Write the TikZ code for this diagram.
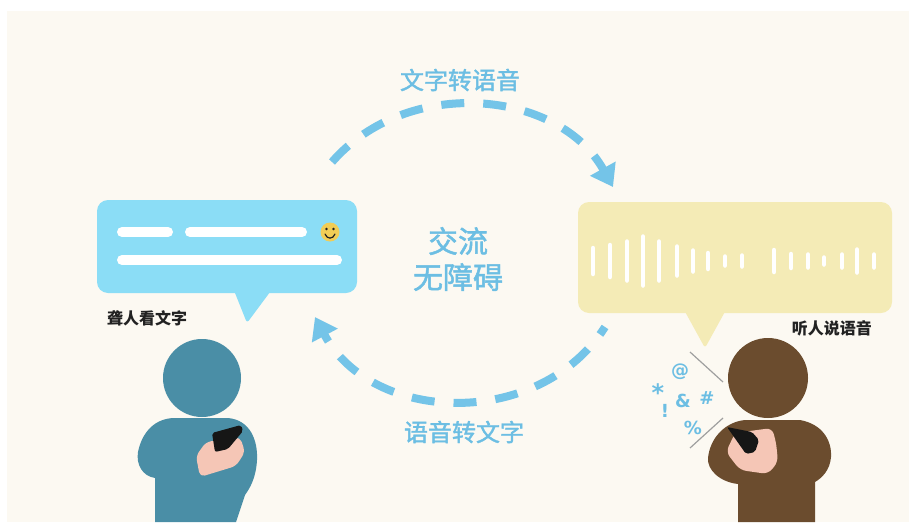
\documentclass[tikz,border=0pt]{standalone}
\usepackage{fontspec}
\newfontfamily\cjk{Noto Sans CJK SC}
\newfontfamily\cjkmed[FakeBold=1.6]{Noto Sans CJK SC}
\newfontfamily\symfont{DejaVu Sans}
\usetikzlibrary{arrows.meta,positioning}
\definecolor{bgcream}{RGB}{252,249,242}
\definecolor{textbub}{RGB}{139,221,246}
\definecolor{voicebub}{RGB}{244,235,182}
\definecolor{flowblue}{RGB}{116,196,232}
\definecolor{capblue}{RGB}{108,190,227}
\definecolor{deafcol}{RGB}{74,142,166}
\definecolor{hearcol}{RGB}{107,76,46}
\definecolor{skin}{RGB}{245,198,182}
\definecolor{phone}{RGB}{22,22,22}
\definecolor{smiley}{RGB}{241,205,85}
\definecolor{labelcol}{RGB}{34,34,34}
\tikzset{
  bubble/.style={rounded corners=11pt, inner sep=0pt},
  txtline/.style={white, line width=10pt, line cap=round},
  wavebar/.style={white, line width=4.5pt, line cap=round},
  % the two dashed conversion loops
  flow/.style={flowblue, line width=8pt, dash pattern=on 23pt off 19pt,
    -{Triangle[length=21pt,width=28pt]}},
  caption/.style={capblue, font=\cjkmed\fontsize{24}{26}\selectfont, inner sep=0pt},
  who/.style={labelcol, font=\cjk\bfseries\fontsize{16}{18}\selectfont, inner sep=0pt},
  noise/.style={capblue, font=\symfont\bfseries\fontsize{18}{22}\selectfont, inner sep=0pt},
}

\begin{document}
\begin{tikzpicture}[x=1pt, y=-1pt]
\useasboundingbox (0,0) rectangle (909,522);
\fill[white] (0,0) rectangle (909,522);
\fill[bgcream] (7,11) rectangle (909,522);

% ---------- text bubble (left) ----------
\node[bubble, fill=textbub, minimum width=260pt, minimum height=93pt] (textbubble) at (227,246.5) {};
\fill[textbub, rounded corners=3pt] (233,288) -- (273,288) -- (247,323) -- cycle;
\draw[txtline] (122,232) -- (168,232);
\draw[txtline] (190,232) -- (302,232);
\draw[txtline] (122,260) -- (337,260);
\fill[smiley] (330,232) circle (9.5pt);
\fill[labelcol] (326.5,229) circle (1.3pt) (333.5,229) circle (1.3pt);
\draw[labelcol, line width=1.2pt, line cap=round] (325,234) .. controls (327,239.5) and (333,239.5) .. (335,234);
\node[who, anchor=west] (deaflabel) at (107,318) {聋人看文字};

% ---------- voice bubble (right) ----------
\node[bubble, fill=voicebub, minimum width=314pt, minimum height=111pt] (voicebubble) at (735,257.5) {};
\fill[voicebub, rounded corners=3pt] (683,308) -- (727,308) -- (705,348) -- cycle;
\foreach \bx/\bh in {593/30, 610/36, 627/43, 643/53, 659/43, 677/33, 693/25, 708/20,
    725/13, 742/15, 774/26, 791/18, 808/17, 824/11, 842/17, 857/27, 874/17}
  \draw[wavebar] (\bx,{261-\bh/2+2}) -- (\bx,{261+\bh/2-2});
\node[who, anchor=east] (hearlabel) at (872,328) {听人说语音};

% ---------- conversion loops ----------
\coordinate (ttsfrom) at (332,162);
\coordinate (ttsto)   at (613,187);
\coordinate (sttfrom) at (605,327);
\coordinate (sttto)   at (315,317);
\draw[flow] (ttsfrom) .. controls (408,75) and (559,90) .. (ttsto);
\draw[flow, dash phase=14pt] (sttfrom) .. controls (539,430) and (372,424) .. (sttto);
\node[caption] (tts) at (460,80) {文字转语音};
\node[caption] (stt) at (464,432) {语音转文字};
\node[caption, font=\cjkmed\fontsize{30}{36}\selectfont, align=center] (barrierfree) at (458,259) {交流\\无障碍};

% ---------- deaf person ----------
\fill[deafcol] (175,418) -- (228,418)
  .. controls (250,420) and (258,440) .. (257,460)
  .. controls (256,478) and (250,488) .. (245,495) -- (236,522) -- (155,522) -- (155,478)
  .. controls (142,476) and (136,464) .. (138,452)
  .. controls (142,432) and (155,418) .. (175,418) -- cycle;
\fill[deafcol] (202,378) circle (39pt);
\fill[skin, rounded corners=5pt] (206,442) -- (240,437) -- (245,452) -- (236,466) -- (200,477) -- (196,456) -- cycle;
\fill[phone, rounded corners=2pt] (212,433) -- (241,425) -- (243,431) -- (228,449) -- (215,452) -- cycle;

% ---------- hearing person ----------
\fill[hearcol] (745,420) -- (800,420)
  .. controls (822,424) and (832,440) .. (831,457)
  .. controls (830,470) and (822,478) .. (815,482) -- (815,522) -- (738,522) -- (738,484)
  .. controls (720,482) and (707,470) .. (708,458)
  .. controls (710,438) and (725,422) .. (745,420) -- cycle;
\fill[hearcol] (768,378) circle (40pt);
\fill[skin, rounded corners=6pt] (735,433) -- (772,428) -- (776,442) -- (778,462) -- (768,474) -- (740,470) -- (726,452) -- cycle;
\fill[phone, rounded corners=2pt] (727,427) -- (752,432) -- (759,440) -- (755,452) -- (746,454) -- cycle;

% speech noise
\draw[gray!75, line width=1.2pt] (690,352) -- (723,382);
\draw[gray!75, line width=1.2pt] (690,448) -- (723,418);
\node[noise] (at)   at (680,372) {@};
\node[noise, font=\symfont\bfseries\fontsize{24}{24}\selectfont] (star) at (658,393) {*};
\node[noise] (amp)  at (683,401) {\&};
\node[noise] (hash) at (707,398) {\#};
\node[noise] (bang) at (665,411) {!};
\node[noise] (pct)  at (693,428) {\%};

\end{tikzpicture}
\end{document}
